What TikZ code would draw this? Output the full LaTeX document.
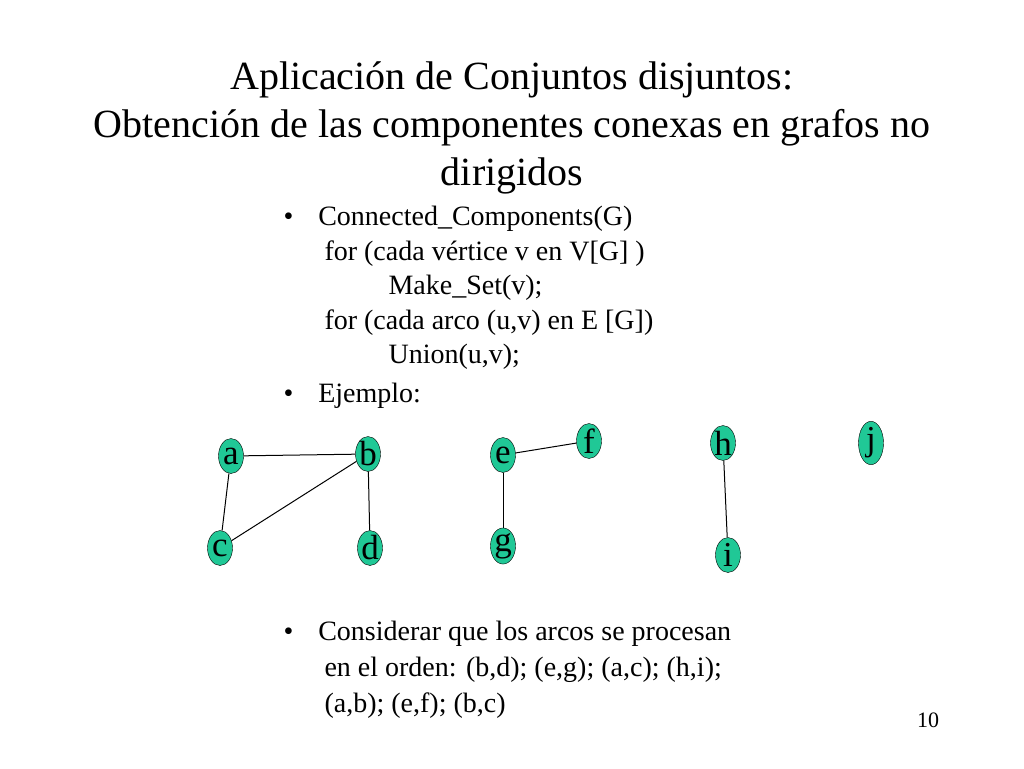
\documentclass[tikz,border=0pt]{standalone}
\usepackage{fontspec}
\setmainfont{Liberation Serif}
\usetikzlibrary{shapes.geometric}
\definecolor{vertexgreen}{RGB}{32,200,150}
\tikzset{
  vertex/.style={shape=ellipse,draw=black,fill=vertexgreen,inner sep=0pt,
    minimum width=25pt,minimum height=35pt,font=\fontsize{35}{35}\selectfont},
  edge/.style={line width=1pt,black}
}
\begin{document}
\begin{tikzpicture}[x=1pt,y=-1pt]
  \useasboundingbox (0,0) rectangle (1024,768);
  % title
  \node[align=center,font=\fontsize{40}{48}\selectfont] (title) at (512,128)
    {Aplicación de Conjuntos disjuntos:\\Obtención de las componentes conexas en grafos no\\dirigidos};
  % pseudocode
  \node[anchor=north west,align=left,font=\fontsize{28}{34.5}\selectfont] (code) at (280,203)
    {•\hspace{25pt}Connected\_Components(G)\\
     \hspace{41pt}for (cada vértice v en V[G] )\\
     \hspace{105pt}Make\_Set(v);\\
     \hspace{41pt}for (cada arco (u,v) en E [G])\\
     \hspace{105pt}Union(u,v);};
  \node[anchor=north west,font=\fontsize{28}{34.5}\selectfont] (ejemplo) at (280,380)
    {•\hspace{25pt}Ejemplo:};
  % graph
  \node[vertex] (a) at (231,456) {a};
  \node[vertex] (b) at (368,454) {b};
  \node[vertex] (c) at (220,548) {c};
  \node[vertex] (d) at (370,548) {d};
  \node[vertex] (e) at (503,455) {e};
  \node[vertex] (f) at (589,441) {f};
  \node[vertex] (g) at (503,546) {g};
  \node[vertex] (h) at (723,443) {h};
  \node[vertex] (i) at (728,555) {i};
  \node[vertex] (j) at (871,443) {j};
  \foreach \u/\v in {a/b,a/c,b/c,b/d,e/f,e/g,h/i}
    \draw[edge] (\u) -- (\v);
  % remark
  \node[anchor=north west,align=left,font=\fontsize{28}{36}\selectfont] (orden) at (280,618)
    {•\hspace{25pt}Considerar que los arcos se procesan\\
     \hspace{41pt}en el orden: (b,d); (e,g); (a,c); (h,i);\\
     \hspace{41pt}(a,b); (e,f); (b,c)};
  \node[font=\fontsize{22}{22}\selectfont] (page) at (928,720) {10};
\end{tikzpicture}
\end{document}
